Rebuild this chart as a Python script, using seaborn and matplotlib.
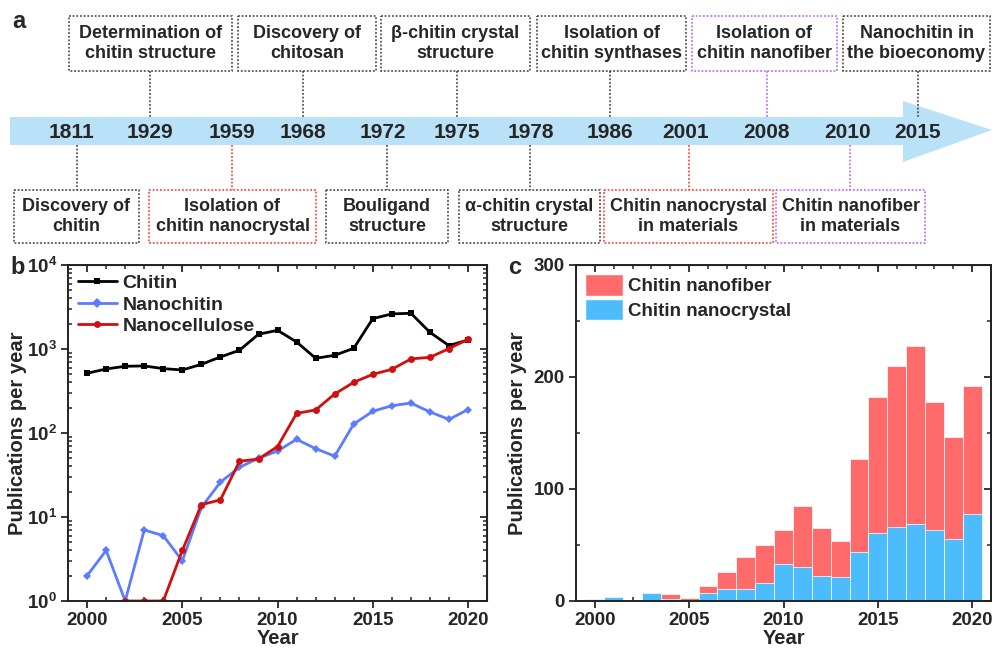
import matplotlib.pyplot as plt
import numpy as np
import pandas as pd
import seaborn as sns
from matplotlib.lines import Line2D
from matplotlib.patches import Patch, Polygon, Rectangle
from matplotlib.ticker import FixedLocator, LogLocator, MultipleLocator, NullFormatter

# ---- data -------------------------------------------------------------
years = list(range(2000, 2021))
chitin = [513, 578, 622, 628, 583, 562, 656, 803, 964, 1496, 1667,
          1211, 774, 841, 1018, 2297, 2612, 2660, 1578, 1096, 1280]
nanochitin = [2, 4, 1, 7, 6, 3, 13, 26, 39, 50, 61,
              84, 65, 53, 128, 181, 211, 227, 178, 145, 190]
nanocellulose = [np.nan, np.nan, 1, 1, 1, 4, 14, 16, 46, 49, 69,
                 171, 188, 291, 401, 499, 572, 760, 796, 1009, 1303]

nanocrystal = [2, 4, 1, 7, 2, 1, 7, 11, 11, 16, 33,
               30, 22, 21, 44, 61, 66, 69, 63, 55, 78]
nanofiber = [0, 0, 0, 0, 4, 2, 6, 15, 28, 34, 30,
             55, 43, 33, 83, 121, 144, 159, 115, 91, 114]

milestone_years = ["1811", "1929", "1959", "1968", "1972", "1975",
                   "1978", "1986", "2001", "2008", "2010", "2015"]
top_events = ["Determination of\nchitin structure", "Discovery of\nchitosan",
              "β-chitin crystal\nstructure", "Isolation of\nchitin synthases",
              "Isolation of\nchitin nanofiber", "Nanochitin in\nthe bioeconomy"]
bottom_events = ["Discovery of\nchitin", "Isolation of\nchitin nanocrystal",
                 "Bouligand\nstructure", "α-chitin crystal\nstructure",
                 "Chitin nanocrystal\nin materials", "Chitin nanofiber\nin materials"]

# ---- layout (pixels) --------------------------------------------------
year_x = [72, 150, 232, 303, 383, 457, 531, 610, 686, 767, 848, 918]
top_boxes = [(69, 232, 150), (238, 376, 303), (381, 530, 457),
             (537, 686, 610), (692, 837, 767), (843, 990, 918)]
bottom_boxes = [(14, 139, 77), (149, 316, 232), (326, 448, 387),
                (459, 600, 530), (604, 773, 689), (776, 925, 850)]
BLK, RED, PUR = "#3a3a3a", "#ff3030", "#b45cff"
top_colors = [BLK, BLK, BLK, BLK, PUR, BLK]
bottom_colors = [BLK, RED, BLK, BLK, RED, PUR]

sns.set_style("ticks")
plt.rcParams["font.family"] = ["Liberation Sans", "DejaVu Sans"]
plt.rcParams["font.weight"] = "bold"
plt.rcParams["axes.labelweight"] = "bold"
plt.rcParams["mathtext.fontset"] = "custom"
plt.rcParams["mathtext.bf"] = "Liberation Sans:bold"
plt.rcParams["mathtext.rm"] = "Liberation Sans:bold"

fig = plt.figure(figsize=(9.92, 6.5), dpi=100)

# ---- panel a: timeline ------------------------------------------------
axa = fig.add_axes([0, 0, 1, 1])
axa.set_xlim(0, 992)
axa.set_ylim(650, 0)
axa.axis("off")
axa.add_patch(Polygon([(10, 117), (903, 117), (903, 101), (992, 130),
                       (903, 162), (903, 145), (10, 145)],
                      closed=True, color="#b9e1f8", lw=0))
for x, yr in zip(year_x, milestone_years):
    axa.text(x, 132, yr, ha="center", va="center", fontsize=15)

for (x0, x1, cx), label, col in zip(top_boxes, top_events, top_colors):
    axa.add_patch(Rectangle((x0, 16), x1 - x0, 55, fill=False, ec=col,
                            ls=(0, (1.2, 1.2)), lw=1.1))
    axa.plot([cx, cx], [71, 117], color=col, ls=(0, (1.2, 1.2)), lw=1.1)
    axa.text((x0 + x1) / 2, 43.5, label, ha="center", va="center",
             fontsize=13, linespacing=1.2)

for (x0, x1, cx), label, col in zip(bottom_boxes, bottom_events, bottom_colors):
    axa.add_patch(Rectangle((x0, 190), x1 - x0, 53, fill=False, ec=col,
                            ls=(0, (1.2, 1.2)), lw=1.1))
    axa.plot([cx, cx], [145, 190], color=col, ls=(0, (1.2, 1.2)), lw=1.1)
    axa.text((x0 + x1) / 2, 216.5, label, ha="center", va="center",
             fontsize=13, linespacing=1.2)

axa.text(12, 22, "a", fontsize=17, ha="left", va="center")
axa.text(10, 267, "b", fontsize=17, ha="left", va="center")
axa.text(508, 267, "c", fontsize=17, ha="left", va="center")


def style_ticks(ax):
    ax.tick_params(which="major", direction="out", length=5, width=1.3,
                   labelsize=13.5, pad=3)
    ax.tick_params(which="minor", direction="in", length=3, width=1.1)
    for s in ax.spines.values():
        s.set_linewidth(1.4)
        s.set_color("#222222")


def mirror_ticks(ax, major, minor):
    top = ax.secondary_xaxis("top")
    top.set_xticks([2000, 2005, 2010, 2015, 2020])
    top.xaxis.set_minor_locator(MultipleLocator(1))
    right = ax.secondary_yaxis("right")
    right.yaxis.set_major_locator(major)
    right.yaxis.set_minor_locator(minor)
    for sec in (top, right):
        sec.tick_params(which="both", direction="in", labeltop=False,
                        labelright=False)
        sec.tick_params(which="major", length=5, width=1.3)
        sec.tick_params(which="minor", length=3, width=1.1)


# ---- panel b: publications, log scale --------------------------------
axb = fig.add_axes([0.0686, 0.0754, 0.4224, 0.517])
df_b = pd.DataFrame({"Year": years, "Chitin": chitin,
                     "Nanochitin": nanochitin, "Nanocellulose": nanocellulose})
series = [("Chitin", "black", "s"), ("Nanochitin", "#5b7cff", "D"),
          ("Nanocellulose", "#d01010", "o")]
for name, col, mk in series:
    sub = df_b[["Year", name]].dropna()
    sns.lineplot(data=sub, x="Year", y=name, ax=axb, color=col, marker=mk,
                 markersize=5 if mk != "D" else 4.5, markeredgewidth=0,
                 linewidth=2, errorbar=None, legend=False)
axb.set_yscale("log")
axb.set_ylim(1, 1e4)
axb.set_xlim(1999, 2021)
axb.set_xticks([2000, 2005, 2010, 2015, 2020])
axb.xaxis.set_minor_locator(MultipleLocator(1))
axb.yaxis.set_major_locator(FixedLocator([1, 10, 100, 1000, 10000]))
axb.set_yticklabels([r"$\mathbf{10^{%d}}$" % k for k in range(5)])
axb.yaxis.set_minor_locator(LogLocator(base=10, subs=np.arange(2, 10)))
axb.yaxis.set_minor_formatter(NullFormatter())
axb.set_xlabel("Year", fontsize=14.5, labelpad=0)
axb.set_ylabel("Publications per year", fontsize=14.5, labelpad=0)
style_ticks(axb)
handles = [Line2D([], [], color=c, marker=m, lw=2, ms=5, mew=0) for _, c, m in series]
axb.legend(handles, [s[0] for s in series], loc="upper left", frameon=False,
           fontsize=14, handlelength=2.0, handletextpad=0.3,
           borderaxespad=0.2, borderpad=0.3, labelspacing=0.2)
mirror_ticks(axb, FixedLocator([1, 10, 100, 1000, 10000]),
             LogLocator(base=10, subs=np.arange(2, 10)))

# ---- panel c: stacked bars -------------------------------------------
axc = fig.add_axes([0.5806, 0.0754, 0.4185, 0.517])
totals = [a + b for a, b in zip(nanocrystal, nanofiber)]
sns.barplot(x=years, y=totals, native_scale=True, width=1, color="#ff6b6b",
            saturation=1, edgecolor="white", linewidth=0.5, ax=axc)
sns.barplot(x=years, y=nanocrystal, native_scale=True, width=1, color="#4cbcfc",
            saturation=1, edgecolor="white", linewidth=0.5, ax=axc)
axc.set_xlim(1999, 2021)
axc.set_ylim(0, 300)
axc.set_xticks([2000, 2005, 2010, 2015, 2020])
axc.set_xticklabels(["2000", "2005", "2010", "2015", "2020"])
axc.xaxis.set_minor_locator(MultipleLocator(1))
axc.yaxis.set_major_locator(MultipleLocator(100))
axc.yaxis.set_minor_locator(MultipleLocator(50))
axc.set_xlabel("Year", fontsize=14.5, labelpad=0)
axc.set_ylabel("Publications per year", fontsize=14.5, labelpad=5)
style_ticks(axc)
mirror_ticks(axc, MultipleLocator(100), MultipleLocator(50))
patches = [Patch(facecolor="#ff6b6b", edgecolor="white"),
           Patch(facecolor="#4cbcfc", edgecolor="white")]
axc.legend(patches, ["Chitin nanofiber", "Chitin nanocrystal"], loc="upper left",
           frameon=False, fontsize=13.5, handlelength=2.0, handleheight=1.4,
           handletextpad=0.3, borderaxespad=0.2, borderpad=0.3, labelspacing=0.15)

fig.savefig("out.png", dpi=100)
